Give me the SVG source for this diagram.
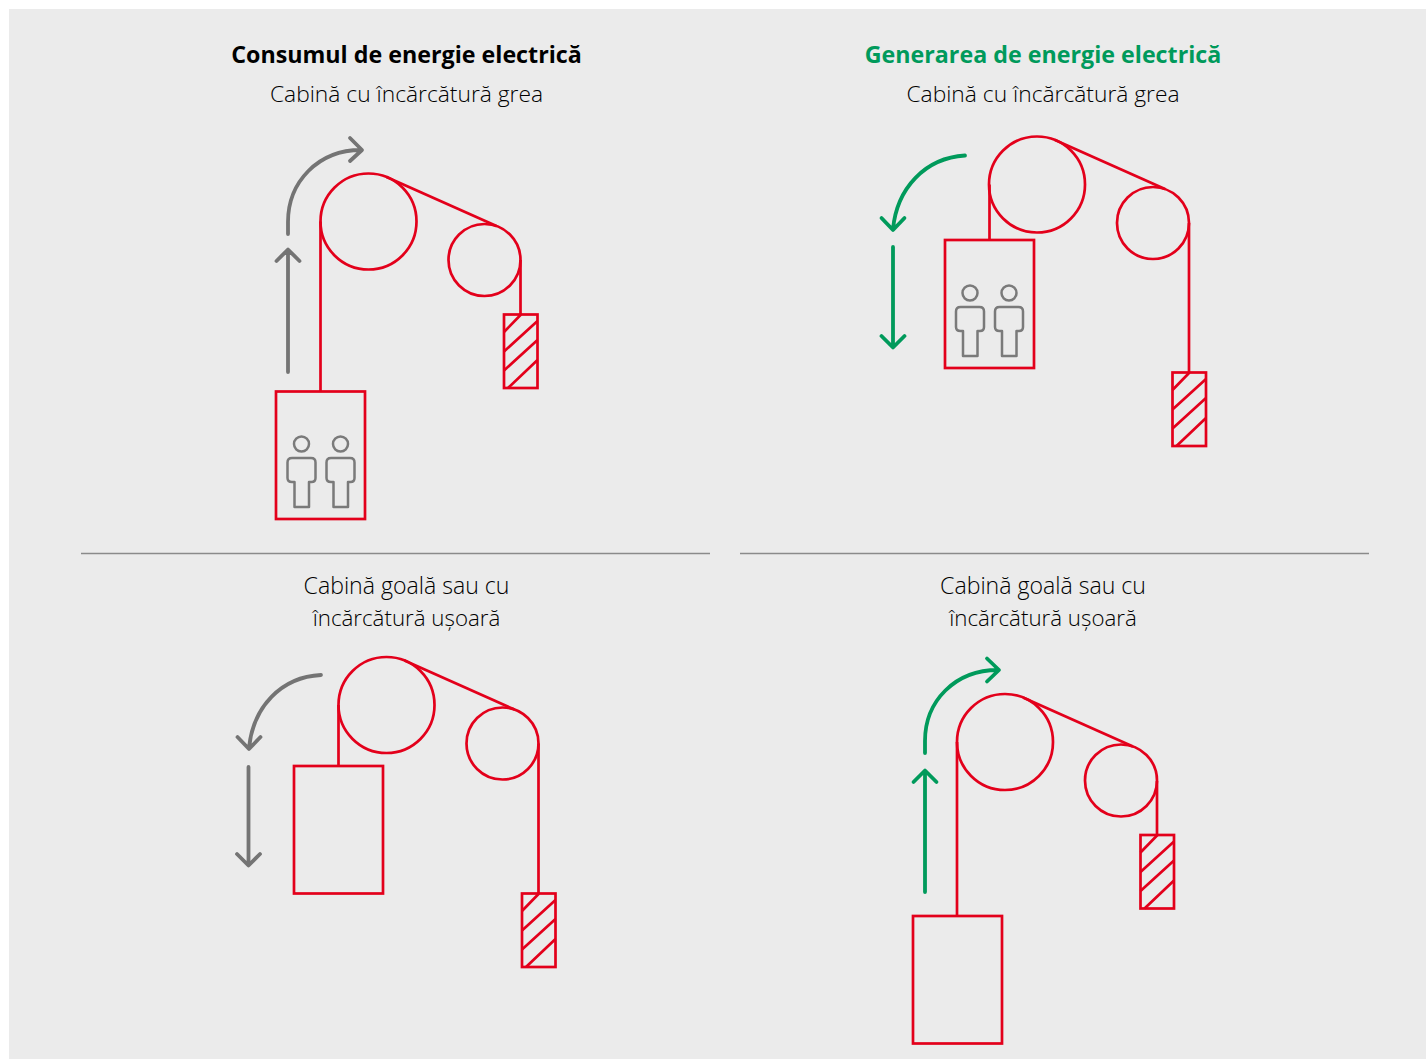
<svg xmlns="http://www.w3.org/2000/svg" width="1426" height="1059" viewBox="0 0 1426 1059">
<style>
.t{font-family:"Open Sans","Noto Sans","Liberation Sans",sans-serif;font-size:22.8px;font-weight:300;fill:#000;text-anchor:middle}
.t2{font-size:23.1px}
.t3{font-size:22.3px}
.h{font-family:"Open Sans","Noto Sans","Liberation Sans",sans-serif;font-size:23.25px;font-weight:700;text-anchor:middle}
.r{fill:none;stroke:#e3001b;stroke-width:2.7}
.g{fill:none;stroke:#7a7a7a;stroke-width:2.5;stroke-linejoin:round}
.ag{fill:none;stroke:#747474;stroke-width:3.8;stroke-linecap:round;stroke-linejoin:round}
.av{fill:none;stroke:#009a5b;stroke-width:3.8;stroke-linecap:round;stroke-linejoin:round}
.d{stroke:#8a8a8a;stroke-width:1.4}
</style>
<defs>
<g id="cw">
<rect class="r" x="0" y="0" width="33.500" height="73.500"/>
<path class="r" d="M0 17.500L17 0M0 37L33.500 6.500M0 56L33.500 25.500M4 73.500L33.500 45.500"/>
</g>
<g id="person">
<circle class="g" cx="14.500" cy="8" r="7.500"/>
<path class="g" d="M5 22H24Q28.500 22 28.500 26.500V42Q28.500 46 24.500 46H22V71H7.500V46H5Q0.500 46 0.500 42V26.500Q0.500 22 5 22Z"/>
</g>
<g id="pulleys">
<circle class="r" cx="48" cy="48" r="48"/>
<circle class="r" cx="164" cy="86.500" r="36"/>
<path class="r" d="M66 3.500L176 52.500"/>
</g>
</defs>
<rect x="9" y="9" width="1417" height="1050" fill="#ebebeb"/>
<g id="texts">
<text class="h" x="406.500" y="63" fill="#000">Consumul de energie electrică</text>
<text class="h" x="1043" y="63" fill="#009a5b">Generarea de energie electrică</text>
<text class="t" x="406.500" y="102">Cabină cu încărcătură grea</text>
<text class="t" x="1043" y="102">Cabină cu încărcătură grea</text>
<text class="t t2" x="406.500" y="594">Cabină goală sau cu</text>
<text class="t t3" x="406.500" y="626">încărcătură ușoară</text>
<text class="t t2" x="1043" y="594">Cabină goală sau cu</text>
<text class="t t3" x="1043" y="626">încărcătură ușoară</text>
</g>
<g id="dividers">
<path class="d" d="M81 553.500H710M740 553.500H1369"/>
</g>
<g id="node-top-left">
<use href="#pulleys" x="320.500" y="173.500"/>
<rect class="r" x="276" y="391.500" width="89" height="127.500"/>
<use href="#cw" x="504" y="314.500"/>
<use href="#person" x="287" y="436"/>
<use href="#person" x="326" y="436"/>
</g>
<g id="node-top-right">
<use href="#pulleys" x="989" y="136.500"/>
<rect class="r" x="945" y="240" width="89" height="128"/>
<use href="#cw" x="1172.500" y="372.500"/>
<use href="#person" x="955.500" y="285"/>
<use href="#person" x="994.500" y="285"/>
</g>
<g id="node-bottom-left">
<use href="#pulleys" x="338.500" y="657"/>
<rect class="r" x="294" y="766" width="89" height="127.500"/>
<use href="#cw" x="522" y="893.500"/>
</g>
<g id="node-bottom-right">
<use href="#pulleys" x="957" y="694"/>
<rect class="r" x="913" y="916" width="89" height="127.500"/>
<use href="#cw" x="1140.500" y="835"/>
</g>
<g id="connectors">
<path class="r" d="M320.500 221.500V391.500M520.500 260V314.500"/>
<path class="r" d="M989.500 184.500V240M1189 223V372.500"/>
<path class="r" d="M338.500 705V766M538.500 743.500V893.500"/>
<path class="r" d="M957 742V916M1157 781V835"/>
<path class="ag" d="M288 372V250M276.500 261L288 249.500L299.500 261"/>
<path class="ag" d="M288 234V222C288 182 318 150 361 150M350 138L362 150L350 161"/>
<path class="av" d="M893 345V247M881.500 336L893 347.500L904.500 336"/>
<path class="av" d="M965 155.500C925 158 897 188 893 229M881.500 218L893 230L904.500 218"/>
<path class="ag" d="M248.500 865V767M237 854L248.500 865.500L260 854"/>
<path class="ag" d="M321 675C281 677 253 707 249 748M237.500 737L249 749L260.500 737"/>
<path class="av" d="M925 892V771M913.500 782L925 770.500L936.500 782"/>
<path class="av" d="M925 753V741C925 701 955 670 998 670M987 658.500L999 670L987 681.500"/>
</g>
</svg>
